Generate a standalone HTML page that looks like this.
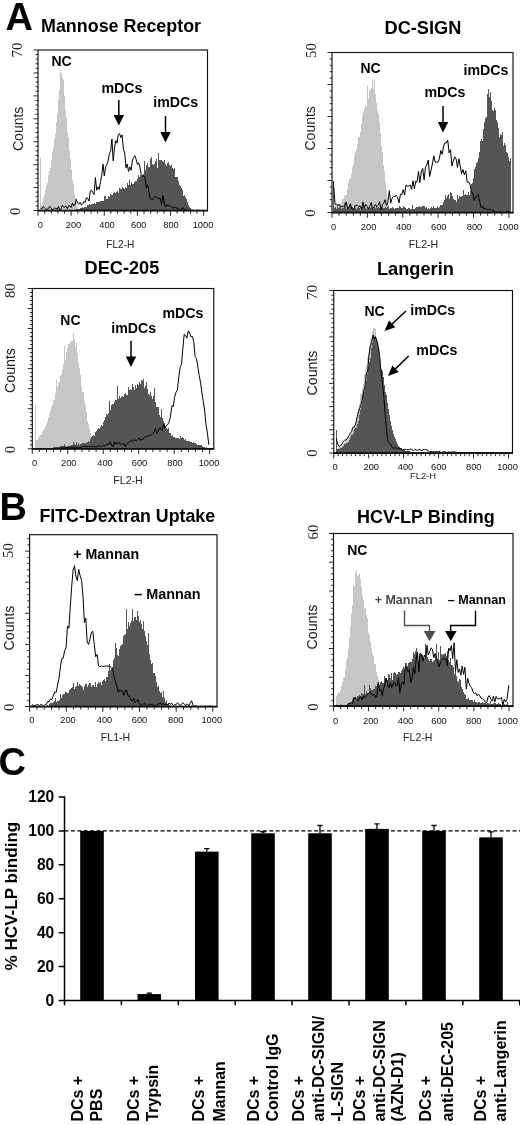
<!DOCTYPE html>
<html><head><meta charset="utf-8"><title>Figure</title>
<style>
html,body{margin:0;padding:0;background:#fff;}
body{width:520px;height:1125px;overflow:hidden;}
svg{display:block;will-change:transform;}
</style></head><body>
<svg width="520" height="1125" viewBox="0 0 520 1125">
<rect width="520" height="1125" fill="#fff"/>
<text x="5.50" y="30.00" font-family='"Liberation Sans", Arial, Helvetica, sans-serif' font-size="38.00" font-weight="bold" text-anchor="start" fill="#000">A</text>
<text x="-0.50" y="520.00" font-family='"Liberation Sans", Arial, Helvetica, sans-serif' font-size="38.00" font-weight="bold" text-anchor="start" fill="#000">B</text>
<text x="-1.50" y="775.00" font-family='"Liberation Sans", Arial, Helvetica, sans-serif' font-size="38.00" font-weight="bold" text-anchor="start" fill="#000">C</text>
<text x="41.00" y="31.50" font-family='"Liberation Sans", Arial, Helvetica, sans-serif' font-size="17.90" font-weight="bold" text-anchor="start" fill="#000">Mannose Receptor</text>
<path d="M40 210.5V158h1V205h1V202h1V198h1V195h1V190h1V185h1V183h1V175h1V171h1V168h1V160h1V152h1V147h1V139h1V134h1V122h1V114h1V100h1V90h1V72h1V73h1V78h1V80h1V96h1V110h1V118h1V132h1V137h1V151h1V159h1V169h1V180h1V184h1V194h1V198h1V204h1V207h1V210h1V210h1V210h1V210h1V210h1V210h1V210h1V210h1V210h1V210h1V210h1V210h1V210h1V210h1V210h1V210h1V210h1V210h1V210h1V210h1V210h1V210h1V210h1V210h1V210h1V210h1V210h1V210h1V210h1V210h1V210h1V210h1V210h1V210h1V210h1V210h1V210h1V210h1V210h1V210h1V210h1V210h1V210h1V210h1V210h1V210h1V210h1V210h1V210h1V210h1V210h1V210h1V210h1V210h1V210h1V210h1V210h1V210h1V210h1V210h1V210h1V210h1V210h1V210h1V210h1V210h1V210h1V210h1V210h1V210h1V210h1V210h1V210h1V210h1V210h1V210h1V210h1V210h1V210h1V210h1V210h1V210h1V210h1V210h1V210h1V210h1V210h1V210h1V210h1V210h1V210h1V210h1V210h1V210h1V210h1V210h1V210h1V210h1V210h1V210h1V210h1V210h1V210h1V210h1V210h1V210h1V210h1V210h1V210h1V210h1V210h1V210h1V210h1V210h1V210h1V210h1V210h1V210h1V210h1V210h1V210h1V210h1V210h1V210h1V210h1V210.5Z" fill="#c6c6c6" shape-rendering="crispEdges"/>
<path d="M40 210.5V210h1V210h1V210h1V210h1V210h1V210h1V210h1V210h1V210h1V210h1V210h1V210h1V210h1V210h1V210h1V210h1V210h1V210h1V210h1V210h1V210h1V210h1V210h1V210h1V210h1V210h1V210h1V210h1V210h1V210h1V210h1V210h1V210h1V210h1V210h1V210h1V209h1V209h1V209h1V209h1V208h1V208h1V207h1V208h1V207h1V207h1V207h1V205h1V205h1V204h1V205h1V204h1V204h1V204h1V203h1V204h1V202h1V202h1V202h1V202h1V201h1V201h1V201h1V201h1V196h1V196h1V199h1V199h1V196h1V197h1V194h1V195h1V195h1V193h1V192h1V193h1V192h1V191h1V193h1V188h1V189h1V189h1V187h1V188h1V189h1V187h1V188h1V183h1V185h1V180h1V185h1V182h1V184h1V184h1V182h1V181h1V181h1V179h1V175h1V177h1V175h1V176h1V175h1V174h1V161h1V170h1V165h1V163h1V167h1V167h1V159h1V157h1V164h1V165h1V164h1V161h1V159h1V168h1V153h1V160h1V160h1V160h1V161h1V162h1V160h1V164h1V166h1V163h1V162h1V165h1V166h1V165h1V168h1V169h1V168h1V177h1V177h1V177h1V181h1V185h1V186h1V188h1V190h1V196h1V195h1V197h1V199h1V202h1V205h1V207h1V208h1V210h1V210h1V210h1V210h1V210h1V210h1V210h1V210h1V210h1V210h1V210h1V210h1V210.5Z" fill="#555555" shape-rendering="crispEdges"/>
<path d="M40.4 207.9L40.6 208.2L41.9 208.8L43.2 206.6L44.5 207.8L45.7 208.9L47.0 209.5L48.3 208.6L49.6 206.3L50.8 207.3L52.1 209.7L53.4 209.0L54.6 208.1L55.9 208.4L57.2 209.1L58.5 206.4L59.7 210.0L61.0 208.8L62.3 205.3L63.6 207.1L64.8 207.1L66.1 206.2L67.4 208.8L68.7 205.6L69.9 205.8L71.2 207.4L72.5 203.0L73.7 205.8L75.0 205.0L76.3 199.2L77.6 203.2L78.8 204.2L80.1 202.2L81.4 205.0L82.7 204.1L83.9 201.4L85.2 202.4L86.5 197.7L87.8 198.4L89.0 201.0L90.3 190.9L91.6 190.2L92.8 192.6L94.1 194.5L95.4 177.6L96.7 190.2L97.9 186.8L99.2 189.5L100.5 181.6L101.8 174.9L103.0 164.1L104.3 175.9L105.6 167.2L106.9 164.4L108.1 160.9L109.4 153.5L110.7 150.8L111.9 139.1L113.2 160.9L114.5 147.7L115.8 140.6L117.0 143.1L118.3 134.6L119.6 133.7L120.9 137.6L122.1 134.9L123.4 149.1L124.7 153.0L126.0 167.7L127.2 164.0L128.5 171.5L129.8 166.9L131.1 170.3L132.3 161.0L133.6 157.5L134.9 155.8L136.1 159.1L137.4 164.5L138.7 162.7L140.0 167.7L141.2 174.5L142.5 176.6L143.8 175.7L145.1 178.0L146.3 188.1L147.6 184.7L148.9 191.7L150.2 197.8L151.4 199.5L152.7 199.8L154.0 197.6L155.2 196.3L156.5 197.2L157.8 198.1L159.1 198.5L160.3 198.3L161.6 204.3L162.9 195.5L164.2 203.0L165.4 206.9L166.7 204.5L168.0 206.3L169.3 205.1L170.5 205.8L171.8 207.1L173.1 208.4L174.3 207.0L175.6 207.6L176.9 208.0L178.2 209.1L179.4 209.0L180.7 209.8L182.0 209.0L183.3 207.7L184.5 209.9L185.8 210.2L187.1 210.0L188.4 210.5L189.6 210.2L190.9 210.2L192.2 210.0L193.4 210.4L194.7 210.5L196.0 210.4L197.3 210.4L198.5 210.1L199.8 210.5L201.1 210.5L202.4 210.3L202.8 210.5" fill="none" stroke="#000" stroke-width="1.00" stroke-linejoin="miter" stroke-miterlimit="2"/>
<path d="M37.50 210.65H208.00" stroke="#111" stroke-width="1.7" fill="none"/>
<rect x="38.00" y="50.00" width="169.50" height="160.50" fill="none" stroke="#111" stroke-width="1.15"/>
<path d="M38.00 210.50v5.30M44.63 210.50v3.20M51.26 210.50v3.20M57.88 210.50v3.20M64.51 210.50v3.20M71.14 210.50v5.30M77.77 210.50v3.20M84.39 210.50v3.20M91.02 210.50v3.20M97.65 210.50v3.20M104.28 210.50v5.30M110.90 210.50v3.20M117.53 210.50v3.20M124.16 210.50v3.20M130.79 210.50v3.20M137.41 210.50v5.30M144.04 210.50v3.20M150.67 210.50v3.20M157.30 210.50v3.20M163.92 210.50v3.20M170.55 210.50v5.30M177.18 210.50v3.20M183.81 210.50v3.20M190.43 210.50v3.20M197.06 210.50v3.20M203.69 210.50v5.30M38.00 210.50h-4.50M38.00 205.91h-2.40M38.00 201.33h-2.40M38.00 196.74h-2.40M38.00 192.16h-2.40M38.00 187.57h-4.50M38.00 182.99h-2.40M38.00 178.40h-2.40M38.00 173.81h-2.40M38.00 169.23h-2.40M38.00 164.64h-4.50M38.00 160.06h-2.40M38.00 155.47h-2.40M38.00 150.89h-2.40M38.00 146.30h-2.40M38.00 141.71h-4.50M38.00 137.13h-2.40M38.00 132.54h-2.40M38.00 127.96h-2.40M38.00 123.37h-2.40M38.00 118.79h-4.50M38.00 114.20h-2.40M38.00 109.61h-2.40M38.00 105.03h-2.40M38.00 100.44h-2.40M38.00 95.86h-4.50M38.00 91.27h-2.40M38.00 86.69h-2.40M38.00 82.10h-2.40M38.00 77.51h-2.40M38.00 72.93h-4.50M38.00 68.34h-2.40M38.00 63.76h-2.40M38.00 59.17h-2.40M38.00 54.59h-2.40M38.00 50.00h-4.50" stroke="#111" stroke-width="0.9" fill="none"/>
<text x="40.40" y="228.25" font-family='"Liberation Sans", Arial, Helvetica, sans-serif' font-size="9.3" fill="#111" text-anchor="middle">0</text>
<text x="73.50" y="228.25" font-family='"Liberation Sans", Arial, Helvetica, sans-serif' font-size="9.3" fill="#111" text-anchor="middle">200</text>
<text x="107.00" y="228.25" font-family='"Liberation Sans", Arial, Helvetica, sans-serif' font-size="9.3" fill="#111" text-anchor="middle">400</text>
<text x="138.80" y="228.25" font-family='"Liberation Sans", Arial, Helvetica, sans-serif' font-size="9.3" fill="#111" text-anchor="middle">600</text>
<text x="171.00" y="228.25" font-family='"Liberation Sans", Arial, Helvetica, sans-serif' font-size="9.3" fill="#111" text-anchor="middle">800</text>
<text x="203.00" y="228.25" font-family='"Liberation Sans", Arial, Helvetica, sans-serif' font-size="9.3" fill="#111" text-anchor="middle">1000</text>
<text x="120.30" y="247.50" font-family='"Liberation Sans", Arial, Helvetica, sans-serif' font-size="10.10" font-weight="normal" text-anchor="middle" fill="#222">FL2-H</text>
<text transform="translate(22.30 57.50) rotate(-90)" font-family='"Liberation Serif", "Times New Roman", serif' font-size="14.80" font-weight="normal" text-anchor="start" fill="#222">70</text>
<text transform="translate(19.80 215.00) rotate(-90)" font-family='"Liberation Serif", "Times New Roman", serif' font-size="14.80" font-weight="normal" text-anchor="start" fill="#222">0</text>
<text transform="translate(22.50 151.00) rotate(-90)" font-family='"Liberation Sans", Arial, Helvetica, sans-serif' font-size="14.00" font-weight="normal" text-anchor="start" fill="#222">Counts</text>
<text x="51.50" y="65.50" font-family='"Liberation Sans", Arial, Helvetica, sans-serif' font-size="14.00" font-weight="bold" text-anchor="start" fill="#000">NC</text>
<text x="101.50" y="92.50" font-family='"Liberation Sans", Arial, Helvetica, sans-serif' font-size="14.20" font-weight="bold" text-anchor="start" fill="#000">mDCs</text>
<path d="M118.80 100.00V116.00" stroke="#000" stroke-width="1.50"/>
<path d="M113.60 115.00L124.00 115.00L118.80 125.50Z" fill="#000"/>
<text x="153.30" y="107.00" font-family='"Liberation Sans", Arial, Helvetica, sans-serif' font-size="14.20" font-weight="bold" text-anchor="start" fill="#000">imDCs</text>
<path d="M165.50 116.00V133.00" stroke="#000" stroke-width="1.50"/>
<path d="M160.30 132.00L170.70 132.00L165.50 142.50Z" fill="#000"/>
<text x="384.50" y="34.00" font-family='"Liberation Sans", Arial, Helvetica, sans-serif' font-size="18.20" font-weight="bold" text-anchor="start" fill="#000">DC-SIGN</text>
<path d="M333 212.5V205h1V206h1V206h1V205h1V206h1V204h1V205h1V204h1V202h1V199h1V199h1V196h1V195h1V195h1V189h1V183h1V178h1V179h1V174h1V167h1V164h1V155h1V152h1V149h1V144h1V137h1V137h1V132h1V124h1V115h1V112h1V109h1V105h1V107h1V85h1V99h1V90h1V90h1V88h1V79h1V89h1V81h1V94h1V103h1V111h1V114h1V122h1V133h1V146h1V152h1V165h1V171h1V182h1V190h1V198h1V208h1V212h1V212h1V212h1V212h1V212h1V212h1V212h1V212h1V212h1V212h1V212h1V212h1V212h1V212h1V212h1V212h1V212h1V212h1V212h1V212h1V212h1V212h1V212h1V212h1V212h1V212h1V212h1V212h1V212h1V212h1V212h1V212h1V212h1V212h1V212h1V212h1V212h1V212h1V212h1V212h1V212h1V212h1V212h1V212h1V212h1V212h1V212h1V212h1V212h1V212h1V212h1V212h1V212h1V212h1V212h1V212h1V212h1V212h1V212h1V212h1V212h1V212h1V212h1V212h1V212h1V212h1V212h1V212h1V212h1V212h1V212h1V212h1V212h1V212h1V212h1V212h1V212h1V212h1V212h1V212h1V212h1V212h1V212h1V212h1V212h1V212h1V212h1V212h1V212h1V212h1V212h1V212h1V212h1V212h1V212h1V212h1V212h1V212h1V212h1V212h1V212h1V212h1V212h1V212h1V212h1V212h1V212h1V212h1V212h1V212h1V212h1V212h1V212h1V212h1V212h1V212h1V212h1V212h1V212h1V212h1V212h1V212h1V212.5Z" fill="#c6c6c6" shape-rendering="crispEdges"/>
<path d="M333 212.5V187h1V208h1V207h1V209h1V207h1V208h1V207h1V208h1V209h1V208h1V208h1V203h1V207h1V209h1V207h1V207h1V207h1V204h1V208h1V207h1V208h1V205h1V208h1V209h1V208h1V207h1V208h1V210h1V207h1V207h1V205h1V207h1V208h1V209h1V207h1V208h1V206h1V208h1V207h1V208h1V209h1V207h1V208h1V207h1V208h1V207h1V208h1V207h1V208h1V207h1V208h1V208h1V207h1V208h1V207h1V206h1V209h1V208h1V208h1V207h1V208h1V209h1V208h1V208h1V208h1V208h1V206h1V207h1V208h1V208h1V206h1V207h1V208h1V209h1V209h1V208h1V208h1V209h1V209h1V205h1V209h1V209h1V208h1V207h1V207h1V207h1V206h1V207h1V207h1V206h1V206h1V206h1V208h1V207h1V209h1V208h1V209h1V208h1V207h1V208h1V206h1V208h1V208h1V208h1V206h1V208h1V207h1V205h1V205h1V205h1V202h1V200h1V195h1V198h1V196h1V194h1V199h1V192h1V193h1V196h1V199h1V200h1V200h1V202h1V195h1V199h1V196h1V197h1V196h1V196h1V190h1V195h1V194h1V195h1V195h1V192h1V195h1V191h1V184h1V183h1V178h1V169h1V167h1V163h1V162h1V158h1V152h1V141h1V139h1V141h1V129h1V122h1V118h1V117h1V94h1V89h1V97h1V92h1V101h1V110h1V111h1V108h1V110h1V120h1V122h1V128h1V137h1V134h1V135h1V132h1V146h1V143h1V145h1V152h1V153h1V157h1V161h1V158h1V212.5Z" fill="#555555" shape-rendering="crispEdges"/>
<path d="M333.4 181.0L333.7 186.0L335.1 204.6L336.5 204.1L337.9 205.9L339.3 204.3L340.6 207.2L342.0 206.4L343.4 206.3L344.8 206.9L346.2 201.9L347.6 208.9L349.0 207.1L350.4 203.6L351.8 208.7L353.2 209.7L354.6 207.8L355.9 205.3L357.3 205.2L358.7 206.7L360.1 205.9L361.5 209.6L362.9 201.9L364.3 207.7L365.7 204.4L367.1 206.4L368.5 208.5L369.9 206.4L371.2 202.6L372.6 208.9L374.0 206.8L375.4 204.4L376.8 206.8L378.2 205.1L379.6 201.7L381.0 209.8L382.4 204.7L383.8 202.8L385.1 199.7L386.5 205.7L387.9 202.4L389.3 190.7L390.7 203.2L392.1 198.3L393.5 196.3L394.9 196.4L396.3 195.5L397.7 197.7L399.1 202.9L400.4 194.2L401.8 194.7L403.2 189.6L404.6 194.9L406.0 185.0L407.4 186.3L408.8 186.1L410.2 185.0L411.6 189.3L413.0 180.8L414.4 188.8L415.7 181.3L417.1 182.2L418.5 171.4L419.9 182.5L421.3 171.9L422.7 168.5L424.1 179.8L425.5 167.1L426.9 164.9L428.3 160.1L429.6 176.6L431.0 170.6L432.4 163.8L433.8 155.9L435.2 162.2L436.6 162.2L438.0 162.3L439.4 158.5L440.8 150.5L442.2 154.3L443.6 146.0L444.9 142.8L446.3 143.0L447.7 140.0L449.1 152.8L450.5 149.7L451.9 165.9L453.3 161.0L454.7 156.8L456.1 158.9L457.5 167.5L458.9 158.8L460.2 165.8L461.6 173.6L463.0 169.6L464.4 174.8L465.8 170.8L467.2 182.4L468.6 181.9L470.0 184.5L471.4 191.7L472.8 193.2L474.1 200.6L475.5 197.2L476.9 196.5L478.3 194.3L479.7 201.9L481.1 207.5L482.5 206.0L483.9 208.9L485.3 208.5L486.7 209.2L488.1 210.0L489.4 209.3L490.8 209.1L492.2 210.5L493.6 210.7L495.0 211.7L496.4 212.3L497.8 212.5L499.2 212.2L500.6 211.6L502.0 212.4L503.4 212.5L504.7 212.3L506.1 212.4L507.5 210.7L508.9 212.4L510.3 212.5L510.8 212.5" fill="none" stroke="#000" stroke-width="1.00" stroke-linejoin="miter" stroke-miterlimit="2"/>
<path d="M331.50 212.65H513.50" stroke="#111" stroke-width="1.7" fill="none"/>
<rect x="332.00" y="52.50" width="181.00" height="160.00" fill="none" stroke="#111" stroke-width="1.15"/>
<path d="M332.00 212.50v5.30M339.08 212.50v3.20M346.15 212.50v3.20M353.23 212.50v3.20M360.31 212.50v3.20M367.39 212.50v5.30M374.46 212.50v3.20M381.54 212.50v3.20M388.62 212.50v3.20M395.70 212.50v3.20M402.77 212.50v5.30M409.85 212.50v3.20M416.93 212.50v3.20M424.00 212.50v3.20M431.08 212.50v3.20M438.16 212.50v5.30M445.24 212.50v3.20M452.31 212.50v3.20M459.39 212.50v3.20M466.47 212.50v3.20M473.54 212.50v5.30M480.62 212.50v3.20M487.70 212.50v3.20M494.78 212.50v3.20M501.85 212.50v3.20M508.93 212.50v5.30M332.00 212.50h-4.50M332.00 206.10h-2.40M332.00 199.70h-2.40M332.00 193.30h-2.40M332.00 186.90h-2.40M332.00 180.50h-4.50M332.00 174.10h-2.40M332.00 167.70h-2.40M332.00 161.30h-2.40M332.00 154.90h-2.40M332.00 148.50h-4.50M332.00 142.10h-2.40M332.00 135.70h-2.40M332.00 129.30h-2.40M332.00 122.90h-2.40M332.00 116.50h-4.50M332.00 110.10h-2.40M332.00 103.70h-2.40M332.00 97.30h-2.40M332.00 90.90h-2.40M332.00 84.50h-4.50M332.00 78.10h-2.40M332.00 71.70h-2.40M332.00 65.30h-2.40M332.00 58.90h-2.40M332.00 52.50h-4.50" stroke="#111" stroke-width="0.9" fill="none"/>
<text x="333.70" y="229.95" font-family='"Liberation Sans", Arial, Helvetica, sans-serif' font-size="9.3" fill="#111" text-anchor="middle">0</text>
<text x="368.60" y="229.95" font-family='"Liberation Sans", Arial, Helvetica, sans-serif' font-size="9.3" fill="#111" text-anchor="middle">200</text>
<text x="403.80" y="229.95" font-family='"Liberation Sans", Arial, Helvetica, sans-serif' font-size="9.3" fill="#111" text-anchor="middle">400</text>
<text x="438.75" y="229.95" font-family='"Liberation Sans", Arial, Helvetica, sans-serif' font-size="9.3" fill="#111" text-anchor="middle">600</text>
<text x="474.50" y="229.95" font-family='"Liberation Sans", Arial, Helvetica, sans-serif' font-size="9.3" fill="#111" text-anchor="middle">800</text>
<text x="508.30" y="229.95" font-family='"Liberation Sans", Arial, Helvetica, sans-serif' font-size="9.3" fill="#111" text-anchor="middle">1000</text>
<text x="423.50" y="248.40" font-family='"Liberation Sans", Arial, Helvetica, sans-serif' font-size="10.60" font-weight="normal" text-anchor="middle" fill="#222">FL2-H</text>
<text transform="translate(316.00 58.00) rotate(-90)" font-family='"Liberation Serif", "Times New Roman", serif' font-size="14.80" font-weight="normal" text-anchor="start" fill="#222">50</text>
<text transform="translate(315.00 216.80) rotate(-90)" font-family='"Liberation Serif", "Times New Roman", serif' font-size="14.80" font-weight="normal" text-anchor="start" fill="#222">0</text>
<text transform="translate(314.50 150.50) rotate(-90)" font-family='"Liberation Sans", Arial, Helvetica, sans-serif' font-size="14.00" font-weight="normal" text-anchor="start" fill="#222">Counts</text>
<text x="360.50" y="72.50" font-family='"Liberation Sans", Arial, Helvetica, sans-serif' font-size="14.00" font-weight="bold" text-anchor="start" fill="#000">NC</text>
<text x="463.50" y="75.00" font-family='"Liberation Sans", Arial, Helvetica, sans-serif' font-size="14.20" font-weight="bold" text-anchor="start" fill="#000">imDCs</text>
<text x="424.50" y="97.00" font-family='"Liberation Sans", Arial, Helvetica, sans-serif' font-size="14.20" font-weight="bold" text-anchor="start" fill="#000">mDCs</text>
<path d="M443.00 106.00V123.00" stroke="#000" stroke-width="1.50"/>
<path d="M437.80 122.00L448.20 122.00L443.00 132.50Z" fill="#000"/>
<text x="84.50" y="274.00" font-family='"Liberation Sans", Arial, Helvetica, sans-serif' font-size="18.20" font-weight="bold" text-anchor="start" fill="#000">DEC-205</text>
<path d="M35 448.8V405h1V440h1V440h1V438h1V436h1V435h1V435h1V432h1V430h1V429h1V427h1V424h1V421h1V417h1V413h1V411h1V407h1V404h1V400h1V400h1V393h1V380h1V387h1V382h1V382h1V376h1V374h1V369h1V364h1V346h1V360h1V352h1V348h1V344h1V344h1V342h1V341h1V341h1V333h1V339h1V347h1V343h1V353h1V363h1V368h1V375h1V386h1V392h1V392h1V401h1V405h1V412h1V421h1V424h1V429h1V433h1V438h1V441h1V443h1V446h1V447h1V449h1V449h1V449h1V449h1V449h1V449h1V449h1V449h1V449h1V449h1V449h1V449h1V449h1V449h1V449h1V449h1V449h1V449h1V449h1V449h1V449h1V449h1V449h1V449h1V449h1V449h1V449h1V449h1V449h1V449h1V449h1V449h1V449h1V449h1V449h1V449h1V449h1V449h1V449h1V449h1V449h1V449h1V449h1V449h1V449h1V449h1V449h1V449h1V449h1V449h1V449h1V449h1V449h1V449h1V449h1V449h1V449h1V449h1V449h1V449h1V449h1V449h1V449h1V449h1V449h1V449h1V449h1V449h1V449h1V449h1V449h1V449h1V449h1V449h1V449h1V449h1V449h1V449h1V449h1V449h1V449h1V449h1V449h1V449h1V449h1V449h1V449h1V449h1V449h1V449h1V449h1V449h1V449h1V449h1V449h1V449h1V449h1V449h1V449h1V449h1V449h1V449h1V449h1V449h1V449h1V449h1V449h1V449h1V449h1V449h1V449h1V449h1V449h1V448.8Z" fill="#c6c6c6" shape-rendering="crispEdges"/>
<path d="M35 448.8V449h1V449h1V449h1V449h1V449h1V449h1V449h1V449h1V449h1V449h1V449h1V448h1V449h1V448h1V448h1V448h1V448h1V448h1V447h1V447h1V447h1V447h1V447h1V447h1V447h1V446h1V446h1V446h1V446h1V444h1V446h1V447h1V446h1V446h1V446h1V446h1V445h1V445h1V442h1V444h1V445h1V442h1V445h1V443h1V445h1V444h1V444h1V443h1V443h1V443h1V443h1V443h1V442h1V441h1V442h1V439h1V437h1V436h1V435h1V436h1V432h1V431h1V429h1V428h1V429h1V427h1V425h1V426h1V422h1V420h1V417h1V414h1V415h1V413h1V401h1V410h1V405h1V404h1V404h1V402h1V400h1V400h1V386h1V399h1V396h1V398h1V397h1V396h1V397h1V394h1V393h1V395h1V395h1V387h1V390h1V389h1V390h1V384h1V387h1V390h1V385h1V388h1V384h1V385h1V382h1V384h1V380h1V381h1V379h1V388h1V386h1V382h1V389h1V394h1V395h1V392h1V396h1V399h1V396h1V388h1V402h1V407h1V407h1V407h1V415h1V417h1V409h1V418h1V421h1V423h1V426h1V428h1V429h1V428h1V433h1V433h1V436h1V435h1V437h1V437h1V438h1V438h1V438h1V438h1V439h1V436h1V438h1V437h1V438h1V440h1V439h1V441h1V441h1V441h1V441h1V442h1V442h1V443h1V442h1V443h1V443h1V444h1V445h1V445h1V445h1V445h1V445h1V446h1V447h1V447h1V448h1V447h1V448h1V448h1V448.8Z" fill="#555555" shape-rendering="crispEdges"/>
<path d="M34.9 448.8L35.2 448.4L36.6 448.8L37.9 448.7L39.3 448.7L40.7 448.5L42.0 448.7L43.4 448.7L44.8 448.6L46.1 448.6L47.5 448.6L48.9 448.7L50.2 448.7L51.6 448.8L53.0 448.7L54.3 448.6L55.7 448.6L57.1 448.3L58.4 448.1L59.8 448.0L61.2 447.9L62.5 447.8L63.9 447.9L65.3 447.5L66.6 447.5L68.0 447.6L69.4 446.8L70.7 447.2L72.1 447.6L73.5 447.1L74.8 447.1L76.2 447.2L77.6 447.5L78.9 448.0L80.3 447.6L81.7 446.9L83.0 446.5L84.4 446.4L85.8 446.6L87.1 446.6L88.5 446.4L89.9 446.4L91.2 446.4L92.6 447.0L94.0 446.1L95.3 446.8L96.7 446.7L98.1 445.9L99.4 446.1L100.8 446.2L102.2 446.4L103.5 445.1L104.9 446.1L106.3 444.6L107.6 444.1L109.0 444.6L110.4 441.4L111.7 445.2L113.1 446.6L114.5 441.8L115.8 444.0L117.2 443.1L118.6 442.2L119.9 444.0L121.3 444.4L122.7 443.8L124.1 443.5L125.4 446.6L126.8 444.2L128.2 442.4L129.5 442.1L130.9 440.5L132.3 441.8L133.6 440.3L135.0 440.0L136.4 440.9L137.7 439.7L139.1 438.0L140.5 440.3L141.8 439.1L143.2 439.3L144.6 437.0L145.9 436.3L147.3 436.3L148.7 435.9L150.0 435.2L151.4 434.7L152.8 433.4L154.1 432.3L155.5 428.7L156.9 433.7L158.2 431.0L159.6 427.5L161.0 428.8L162.3 430.5L163.7 424.0L165.1 427.8L166.4 425.4L167.8 424.5L169.2 421.9L170.5 416.5L171.9 405.7L173.3 406.5L174.6 397.3L176.0 392.3L177.4 390.2L178.7 377.7L180.1 367.5L181.5 364.4L182.8 349.2L184.2 334.3L185.6 335.5L186.9 338.1L188.3 330.9L189.7 333.0L191.0 336.9L192.4 336.5L193.8 342.1L195.1 356.5L196.5 358.5L197.9 367.0L199.2 375.4L200.6 382.8L202.0 393.6L203.3 401.5L204.7 411.0L206.1 425.3L207.4 432.9L208.8 444.5L209.3 444.3" fill="none" stroke="#000" stroke-width="1.00" stroke-linejoin="miter" stroke-miterlimit="2"/>
<path d="M31.80 448.90H214.25" stroke="#111" stroke-width="1.7" fill="none"/>
<rect x="32.30" y="288.50" width="181.45" height="160.25" fill="none" stroke="#111" stroke-width="1.15"/>
<path d="M32.30 448.75v5.30M39.39 448.75v3.20M46.49 448.75v3.20M53.58 448.75v3.20M60.68 448.75v3.20M67.77 448.75v5.30M74.87 448.75v3.20M81.96 448.75v3.20M89.06 448.75v3.20M96.15 448.75v3.20M103.25 448.75v5.30M110.34 448.75v3.20M117.44 448.75v3.20M124.53 448.75v3.20M131.63 448.75v3.20M138.72 448.75v5.30M145.82 448.75v3.20M152.91 448.75v3.20M160.01 448.75v3.20M167.10 448.75v3.20M174.20 448.75v5.30M181.29 448.75v3.20M188.39 448.75v3.20M195.48 448.75v3.20M202.58 448.75v3.20M209.67 448.75v5.30M32.30 448.75h-4.50M32.30 444.74h-2.40M32.30 440.74h-2.40M32.30 436.73h-2.40M32.30 432.73h-2.40M32.30 428.72h-4.50M32.30 424.71h-2.40M32.30 420.71h-2.40M32.30 416.70h-2.40M32.30 412.69h-2.40M32.30 408.69h-4.50M32.30 404.68h-2.40M32.30 400.68h-2.40M32.30 396.67h-2.40M32.30 392.66h-2.40M32.30 388.66h-4.50M32.30 384.65h-2.40M32.30 380.64h-2.40M32.30 376.64h-2.40M32.30 372.63h-2.40M32.30 368.62h-4.50M32.30 364.62h-2.40M32.30 360.61h-2.40M32.30 356.61h-2.40M32.30 352.60h-2.40M32.30 348.59h-4.50M32.30 344.59h-2.40M32.30 340.58h-2.40M32.30 336.58h-2.40M32.30 332.57h-2.40M32.30 328.56h-4.50M32.30 324.56h-2.40M32.30 320.55h-2.40M32.30 316.54h-2.40M32.30 312.54h-2.40M32.30 308.53h-4.50M32.30 304.52h-2.40M32.30 300.52h-2.40M32.30 296.51h-2.40M32.30 292.51h-2.40M32.30 288.50h-4.50" stroke="#111" stroke-width="0.9" fill="none"/>
<text x="34.50" y="465.95" font-family='"Liberation Sans", Arial, Helvetica, sans-serif' font-size="9.3" fill="#111" text-anchor="middle">0</text>
<text x="68.75" y="465.95" font-family='"Liberation Sans", Arial, Helvetica, sans-serif' font-size="9.3" fill="#111" text-anchor="middle">200</text>
<text x="105.00" y="465.95" font-family='"Liberation Sans", Arial, Helvetica, sans-serif' font-size="9.3" fill="#111" text-anchor="middle">400</text>
<text x="139.50" y="465.95" font-family='"Liberation Sans", Arial, Helvetica, sans-serif' font-size="9.3" fill="#111" text-anchor="middle">600</text>
<text x="175.00" y="465.95" font-family='"Liberation Sans", Arial, Helvetica, sans-serif' font-size="9.3" fill="#111" text-anchor="middle">800</text>
<text x="209.00" y="465.95" font-family='"Liberation Sans", Arial, Helvetica, sans-serif' font-size="9.3" fill="#111" text-anchor="middle">1000</text>
<text x="128.00" y="483.70" font-family='"Liberation Sans", Arial, Helvetica, sans-serif' font-size="10.60" font-weight="normal" text-anchor="middle" fill="#222">FL2-H</text>
<text transform="translate(14.90 298.10) rotate(-90)" font-family='"Liberation Serif", "Times New Roman", serif' font-size="14.80" font-weight="normal" text-anchor="start" fill="#222">80</text>
<text transform="translate(14.90 453.30) rotate(-90)" font-family='"Liberation Serif", "Times New Roman", serif' font-size="14.80" font-weight="normal" text-anchor="start" fill="#222">0</text>
<text transform="translate(15.00 393.00) rotate(-90)" font-family='"Liberation Sans", Arial, Helvetica, sans-serif' font-size="14.20" font-weight="normal" text-anchor="start" fill="#222">Counts</text>
<text x="60.30" y="325.00" font-family='"Liberation Sans", Arial, Helvetica, sans-serif' font-size="14.00" font-weight="bold" text-anchor="start" fill="#000">NC</text>
<text x="162.50" y="317.50" font-family='"Liberation Sans", Arial, Helvetica, sans-serif' font-size="14.20" font-weight="bold" text-anchor="start" fill="#000">mDCs</text>
<text x="111.30" y="333.00" font-family='"Liberation Sans", Arial, Helvetica, sans-serif' font-size="14.20" font-weight="bold" text-anchor="start" fill="#000">imDCs</text>
<path d="M131.00 340.70V357.50" stroke="#000" stroke-width="1.50"/>
<path d="M125.80 356.50L136.20 356.50L131.00 367.00Z" fill="#000"/>
<text x="377.00" y="275.00" font-family='"Liberation Sans", Arial, Helvetica, sans-serif' font-size="18.20" font-weight="bold" text-anchor="start" fill="#000">Langerin</text>
<path d="M336 453.0V449h1V448h1V447h1V445h1V447h1V444h1V444h1V444h1V442h1V441h1V439h1V439h1V438h1V436h1V433h1V433h1V430h1V429h1V426h1V423h1V418h1V412h1V408h1V404h1V394h1V394h1V389h1V384h1V374h1V370h1V365h1V357h1V353h1V346h1V339h1V337h1V331h1V328h1V328h1V329h1V337h1V345h1V358h1V364h1V370h1V376h1V382h1V389h1V396h1V403h1V409h1V415h1V425h1V428h1V433h1V435h1V444h1V447h1V449h1V451h1V453h1V453h1V453h1V453h1V453h1V453h1V453h1V453h1V453h1V453h1V453h1V453h1V453h1V453h1V453h1V453h1V453h1V453h1V453h1V453h1V453h1V453h1V453h1V453h1V453h1V453h1V453h1V453h1V453h1V453h1V453h1V453h1V453h1V453h1V453h1V453h1V453h1V453h1V453h1V453h1V453h1V453h1V453h1V453h1V453h1V453h1V453h1V453h1V453h1V453h1V453h1V453h1V453h1V453h1V453h1V453h1V453h1V453h1V453h1V453h1V453h1V453h1V453h1V453h1V453h1V453h1V453h1V453h1V453h1V453h1V453h1V453h1V453h1V453h1V453h1V453h1V453h1V453h1V453h1V453h1V453h1V453h1V453h1V453h1V453h1V453h1V453h1V453h1V453h1V453h1V453h1V453h1V453h1V453h1V453h1V453h1V453h1V453h1V453h1V453h1V453h1V453h1V453h1V453h1V453h1V453h1V453h1V453h1V453h1V453h1V453h1V453h1V453.0Z" fill="#c6c6c6" shape-rendering="crispEdges"/>
<path d="M336 453.0V430h1V449h1V449h1V449h1V448h1V448h1V447h1V446h1V444h1V444h1V443h1V443h1V442h1V440h1V437h1V435h1V435h1V433h1V429h1V428h1V428h1V424h1V421h1V415h1V410h1V406h1V401h1V394h1V391h1V386h1V381h1V374h1V367h1V362h1V358h1V348h1V343h1V335h1V337h1V336h1V340h1V343h1V349h1V358h1V366h1V369h1V371h1V377h1V385h1V392h1V395h1V403h1V409h1V415h1V421h1V426h1V430h1V434h1V437h1V439h1V442h1V444h1V446h1V447h1V448h1V449h1V450h1V450h1V450h1V451h1V451h1V451h1V451h1V451h1V452h1V452h1V452h1V452h1V452h1V453h1V453h1V453h1V453h1V453h1V453h1V453h1V453h1V453h1V453h1V453h1V453h1V453h1V453h1V453h1V453h1V453h1V453h1V453h1V453h1V453h1V453h1V453h1V453h1V453h1V453h1V453h1V453h1V453h1V453h1V453h1V453h1V453h1V453h1V453h1V453h1V453h1V453h1V453h1V453h1V453h1V453h1V453h1V453h1V453h1V453h1V453h1V453h1V453h1V453h1V453h1V453h1V453h1V453h1V453h1V453h1V453h1V453h1V453h1V453h1V453h1V453h1V453h1V453h1V453h1V453h1V453h1V453h1V453h1V453h1V453h1V453h1V453h1V453h1V453h1V453h1V453h1V453h1V453h1V453h1V453h1V453h1V453h1V453h1V453h1V453h1V453h1V453h1V453h1V453h1V453h1V453h1V453h1V453.0Z" fill="#555555" shape-rendering="crispEdges"/>
<path d="M336.4 438.7L336.7 440.2L338.0 444.8L339.4 446.7L340.7 445.3L342.1 443.9L343.4 441.2L344.8 440.1L346.1 440.0L347.5 438.1L348.8 435.9L350.2 433.4L351.5 431.7L352.8 427.4L354.2 427.3L355.5 424.5L356.9 418.1L358.2 413.2L359.6 408.4L360.9 405.1L362.3 399.0L363.6 391.2L365.0 387.0L366.3 374.2L367.7 371.0L369.0 354.7L370.4 345.4L371.7 342.2L373.1 334.9L374.4 338.5L375.8 337.7L377.1 341.1L378.5 347.6L379.8 357.7L381.1 372.6L382.5 383.9L383.8 395.6L385.2 415.6L386.5 429.5L387.9 441.3L389.2 442.6L390.6 444.1L391.9 446.9L393.3 448.5L394.6 447.8L396.0 448.0L397.3 448.5L398.7 448.0L400.0 449.0L401.4 448.3L402.7 450.3L404.1 449.0L405.4 449.7L406.8 449.8L408.1 449.6L409.4 449.9L410.8 448.9L412.1 449.8L413.5 450.7L414.8 449.4L416.2 449.7L417.5 450.6L418.9 449.8L420.2 449.3L421.6 451.2L422.9 449.5L424.3 449.5L425.6 449.7L427.0 449.9L428.3 450.8L429.7 451.7L431.0 451.7L432.4 451.3L433.7 451.6L435.1 452.0L436.4 451.5L437.7 451.9L439.1 451.3L440.4 451.9L441.8 452.7L443.1 451.6L444.5 451.8L445.8 452.1L447.2 452.4L448.5 451.8L449.9 452.3L451.2 452.1L452.6 452.0L453.9 451.7L455.3 452.1L456.6 452.3L458.0 452.7L459.3 452.4L460.7 453.0L462.0 452.9L463.4 452.7L464.7 452.9L466.0 453.0L467.4 453.0L468.7 452.9L470.1 452.8L471.4 452.9L472.8 453.0L474.1 452.9L475.5 453.0L476.8 452.9L478.2 453.0L479.5 453.0L480.9 453.0L482.2 453.0L483.6 452.9L484.9 453.0L486.3 453.0L487.6 452.9L489.0 453.0L490.3 452.9L491.7 452.8L493.0 452.9L494.3 452.9L495.7 452.8L497.0 452.9L498.4 453.0L499.7 453.0L501.1 453.0L502.4 453.0L503.8 453.0L505.1 452.9L506.5 453.0L507.8 452.9L508.3 453.0" fill="none" stroke="#000" stroke-width="1.00" stroke-linejoin="miter" stroke-miterlimit="2"/>
<path d="M333.25 453.15H513.00" stroke="#111" stroke-width="1.7" fill="none"/>
<rect x="333.75" y="290.50" width="178.75" height="162.50" fill="none" stroke="#111" stroke-width="1.15"/>
<path d="M333.75 453.00v5.30M338.12 453.00v3.20M342.49 453.00v3.20M346.85 453.00v3.20M351.22 453.00v3.20M355.59 453.00v3.20M359.96 453.00v3.20M364.33 453.00v3.20M368.70 453.00v5.30M373.06 453.00v3.20M377.43 453.00v3.20M381.80 453.00v3.20M386.17 453.00v3.20M390.54 453.00v3.20M394.91 453.00v3.20M399.27 453.00v3.20M403.64 453.00v5.30M408.01 453.00v3.20M412.38 453.00v3.20M416.75 453.00v3.20M421.12 453.00v3.20M425.48 453.00v3.20M429.85 453.00v3.20M434.22 453.00v3.20M438.59 453.00v5.30M442.96 453.00v3.20M447.33 453.00v3.20M451.69 453.00v3.20M456.06 453.00v3.20M460.43 453.00v3.20M464.80 453.00v3.20M469.17 453.00v3.20M473.53 453.00v5.30M477.90 453.00v3.20M482.27 453.00v3.20M486.64 453.00v3.20M491.01 453.00v3.20M495.38 453.00v3.20M499.74 453.00v3.20M504.11 453.00v3.20M508.48 453.00v5.30M333.75 453.00h-4.50M333.75 448.36h-2.40M333.75 443.71h-2.40M333.75 439.07h-2.40M333.75 434.43h-2.40M333.75 429.79h-4.50M333.75 425.14h-2.40M333.75 420.50h-2.40M333.75 415.86h-2.40M333.75 411.21h-2.40M333.75 406.57h-4.50M333.75 401.93h-2.40M333.75 397.29h-2.40M333.75 392.64h-2.40M333.75 388.00h-2.40M333.75 383.36h-4.50M333.75 378.71h-2.40M333.75 374.07h-2.40M333.75 369.43h-2.40M333.75 364.79h-2.40M333.75 360.14h-4.50M333.75 355.50h-2.40M333.75 350.86h-2.40M333.75 346.21h-2.40M333.75 341.57h-2.40M333.75 336.93h-4.50M333.75 332.29h-2.40M333.75 327.64h-2.40M333.75 323.00h-2.40M333.75 318.36h-2.40M333.75 313.71h-4.50M333.75 309.07h-2.40M333.75 304.43h-2.40M333.75 299.79h-2.40M333.75 295.14h-2.40M333.75 290.50h-4.50" stroke="#111" stroke-width="0.9" fill="none"/>
<text x="335.00" y="469.95" font-family='"Liberation Sans", Arial, Helvetica, sans-serif' font-size="9.3" fill="#111" text-anchor="middle">0</text>
<text x="371.25" y="469.95" font-family='"Liberation Sans", Arial, Helvetica, sans-serif' font-size="9.3" fill="#111" text-anchor="middle">200</text>
<text x="405.50" y="469.95" font-family='"Liberation Sans", Arial, Helvetica, sans-serif' font-size="9.3" fill="#111" text-anchor="middle">400</text>
<text x="438.75" y="469.95" font-family='"Liberation Sans", Arial, Helvetica, sans-serif' font-size="9.3" fill="#111" text-anchor="middle">600</text>
<text x="473.75" y="469.95" font-family='"Liberation Sans", Arial, Helvetica, sans-serif' font-size="9.3" fill="#111" text-anchor="middle">800</text>
<text x="507.50" y="469.95" font-family='"Liberation Sans", Arial, Helvetica, sans-serif' font-size="9.3" fill="#111" text-anchor="middle">1000</text>
<text x="423.00" y="479.40" font-family='"Liberation Sans", Arial, Helvetica, sans-serif' font-size="9.40" font-weight="normal" text-anchor="middle" fill="#222">FL2-H</text>
<text transform="translate(317.10 299.70) rotate(-90)" font-family='"Liberation Serif", "Times New Roman", serif' font-size="14.80" font-weight="normal" text-anchor="start" fill="#222">70</text>
<text transform="translate(316.60 456.70) rotate(-90)" font-family='"Liberation Serif", "Times New Roman", serif' font-size="14.80" font-weight="normal" text-anchor="start" fill="#222">0</text>
<text transform="translate(317.00 395.50) rotate(-90)" font-family='"Liberation Sans", Arial, Helvetica, sans-serif' font-size="14.20" font-weight="normal" text-anchor="start" fill="#222">Counts</text>
<text x="364.50" y="316.00" font-family='"Liberation Sans", Arial, Helvetica, sans-serif' font-size="14.00" font-weight="bold" text-anchor="start" fill="#000">NC</text>
<text x="410.30" y="315.00" font-family='"Liberation Sans", Arial, Helvetica, sans-serif' font-size="14.20" font-weight="bold" text-anchor="start" fill="#000">imDCs</text>
<text x="416.30" y="354.50" font-family='"Liberation Sans", Arial, Helvetica, sans-serif' font-size="14.20" font-weight="bold" text-anchor="start" fill="#000">mDCs</text>
<path d="M406.00 311.00L391.46 324.53" stroke="#000" stroke-width="1.50"/>
<path d="M389.05 320.48L395.32 327.22L384.50 331.00Z" fill="#000"/>
<path d="M408.70 356.00L394.83 369.40" stroke="#000" stroke-width="1.50"/>
<path d="M392.35 365.40L398.75 372.01L388.00 376.00Z" fill="#000"/>
<text x="39.50" y="522.00" font-family='"Liberation Sans", Arial, Helvetica, sans-serif' font-size="17.75" font-weight="bold" text-anchor="start" fill="#000">FITC-Dextran Uptake</text>
<path d="M32 706.5V706h1V706h1V706h1V706h1V706h1V706h1V706h1V706h1V706h1V706h1V706h1V706h1V706h1V706h1V706h1V705h1V706h1V704h1V703h1V703h1V703h1V702h1V701h1V698h1V702h1V701h1V701h1V700h1V694h1V698h1V695h1V694h1V694h1V692h1V692h1V693h1V693h1V690h1V689h1V688h1V687h1V683h1V689h1V687h1V686h1V682h1V686h1V684h1V685h1V686h1V687h1V690h1V686h1V684h1V684h1V687h1V685h1V683h1V683h1V687h1V685h1V685h1V687h1V682h1V687h1V684h1V682h1V683h1V682h1V685h1V681h1V680h1V679h1V681h1V677h1V677h1V671h1V664h1V670h1V669h1V667h1V660h1V658h1V643h1V648h1V655h1V656h1V649h1V646h1V645h1V644h1V636h1V635h1V634h1V609h1V629h1V622h1V626h1V623h1V621h1V609h1V621h1V617h1V617h1V620h1V611h1V616h1V622h1V620h1V624h1V629h1V621h1V631h1V636h1V641h1V645h1V633h1V654h1V660h1V664h1V663h1V673h1V673h1V676h1V682h1V687h1V686h1V691h1V693h1V692h1V697h1V691h1V698h1V702h1V700h1V704h1V704h1V705h1V706h1V706h1V706h1V706h1V706h1V706h1V706h1V706h1V706h1V706h1V706h1V706h1V706h1V706h1V706h1V706h1V706h1V706h1V706h1V706h1V706h1V706h1V706h1V706h1V706h1V706h1V706h1V706h1V706h1V706h1V706h1V706h1V706h1V706h1V706h1V706h1V706h1V706h1V706h1V706h1V706h1V706h1V706.5Z" fill="#555555" shape-rendering="crispEdges"/>
<path d="M31.9 706.5L32.2 704.8L33.6 705.3L35.0 705.6L36.4 704.6L37.8 704.5L39.3 705.9L40.7 704.7L42.1 704.6L43.5 706.2L44.9 704.9L46.3 704.4L47.7 701.6L49.1 701.8L50.5 699.0L51.9 699.6L53.4 695.0L54.8 691.9L56.2 692.5L57.6 684.9L59.0 678.2L60.4 667.0L61.8 658.5L63.2 658.2L64.6 650.9L66.0 648.0L67.5 626.0L68.9 628.2L70.3 606.4L71.7 586.6L73.1 570.0L74.5 565.7L75.9 576.1L77.3 580.6L78.7 569.4L80.2 576.0L81.6 580.4L83.0 596.8L84.4 622.5L85.8 618.2L87.2 642.1L88.6 644.4L90.0 638.7L91.4 632.3L92.8 631.3L94.3 644.7L95.7 656.7L97.1 654.4L98.5 665.5L99.9 667.0L101.3 665.8L102.7 666.4L104.1 666.5L105.5 665.9L106.9 666.1L108.4 666.2L109.8 666.1L111.2 667.9L112.6 669.3L114.0 676.5L115.4 681.3L116.8 686.1L118.2 692.3L119.6 689.8L121.0 690.9L122.5 691.3L123.9 695.3L125.3 690.5L126.7 689.9L128.1 696.6L129.5 695.8L130.9 700.1L132.3 701.3L133.7 698.3L135.1 702.8L136.6 701.2L138.0 699.4L139.4 703.9L140.8 705.6L142.2 704.4L143.6 703.7L145.0 703.9L146.4 704.9L147.8 706.4L149.2 704.1L150.7 705.1L152.1 704.1L153.5 706.1L154.9 705.0L156.3 706.5L157.7 704.2L159.1 703.8L160.5 702.9L161.9 704.9L163.3 703.3L164.8 704.9L166.2 704.5L167.6 704.4L169.0 703.2L170.4 704.3L171.8 703.1L173.2 705.7L174.6 704.7L176.0 704.8L177.5 702.8L178.9 704.1L180.3 705.9L181.7 703.8L183.1 702.7L184.5 704.5L185.9 705.5L187.3 703.8L188.7 705.7L190.1 703.4L191.6 700.7L193.0 705.3L194.4 706.2L195.8 705.6L197.2 706.4L198.6 706.5L200.0 706.5L201.4 706.2L202.8 706.5L204.2 706.3L205.7 706.0L207.1 706.5L208.5 706.2L209.9 705.9L211.3 706.5L211.8 706.5" fill="none" stroke="#000" stroke-width="1.00" stroke-linejoin="miter" stroke-miterlimit="2"/>
<path d="M29.10 706.65H217.50" stroke="#111" stroke-width="1.7" fill="none"/>
<rect x="29.60" y="534.70" width="187.40" height="171.80" fill="none" stroke="#111" stroke-width="1.15"/>
<path d="M29.60 706.50v5.30M36.93 706.50v3.20M44.25 706.50v3.20M51.58 706.50v3.20M58.91 706.50v3.20M66.24 706.50v5.30M73.56 706.50v3.20M80.89 706.50v3.20M88.22 706.50v3.20M95.55 706.50v3.20M102.87 706.50v5.30M110.20 706.50v3.20M117.53 706.50v3.20M124.86 706.50v3.20M132.18 706.50v3.20M139.51 706.50v5.30M146.84 706.50v3.20M154.17 706.50v3.20M161.49 706.50v3.20M168.82 706.50v3.20M176.15 706.50v5.30M183.48 706.50v3.20M190.80 706.50v3.20M198.13 706.50v3.20M205.46 706.50v3.20M212.79 706.50v5.30M29.60 706.50h-4.50M29.60 700.29h-2.40M29.60 694.07h-2.40M29.60 687.86h-2.40M29.60 681.65h-2.40M29.60 675.43h-4.50M29.60 669.22h-2.40M29.60 663.01h-2.40M29.60 656.79h-2.40M29.60 650.58h-2.40M29.60 644.37h-4.50M29.60 638.15h-2.40M29.60 631.94h-2.40M29.60 625.73h-2.40M29.60 619.51h-2.40M29.60 613.30h-4.50M29.60 607.09h-2.40M29.60 600.87h-2.40M29.60 594.66h-2.40M29.60 588.45h-2.40M29.60 582.23h-4.50M29.60 576.02h-2.40M29.60 569.81h-2.40M29.60 563.59h-2.40M29.60 557.38h-2.40M29.60 551.17h-4.50M29.60 544.95h-2.40M29.60 538.74h-2.40" stroke="#111" stroke-width="0.9" fill="none"/>
<text x="31.75" y="723.05" font-family='"Liberation Sans", Arial, Helvetica, sans-serif' font-size="9.3" fill="#111" text-anchor="middle">0</text>
<text x="68.00" y="723.05" font-family='"Liberation Sans", Arial, Helvetica, sans-serif' font-size="9.3" fill="#111" text-anchor="middle">200</text>
<text x="104.50" y="723.05" font-family='"Liberation Sans", Arial, Helvetica, sans-serif' font-size="9.3" fill="#111" text-anchor="middle">400</text>
<text x="139.50" y="723.05" font-family='"Liberation Sans", Arial, Helvetica, sans-serif' font-size="9.3" fill="#111" text-anchor="middle">600</text>
<text x="175.75" y="723.05" font-family='"Liberation Sans", Arial, Helvetica, sans-serif' font-size="9.3" fill="#111" text-anchor="middle">800</text>
<text x="211.75" y="723.05" font-family='"Liberation Sans", Arial, Helvetica, sans-serif' font-size="9.3" fill="#111" text-anchor="middle">1000</text>
<text x="115.50" y="741.20" font-family='"Liberation Sans", Arial, Helvetica, sans-serif' font-size="10.60" font-weight="normal" text-anchor="middle" fill="#222">FL1-H</text>
<text transform="translate(12.70 557.90) rotate(-90)" font-family='"Liberation Serif", "Times New Roman", serif' font-size="14.80" font-weight="normal" text-anchor="start" fill="#222">50</text>
<text transform="translate(13.90 710.90) rotate(-90)" font-family='"Liberation Serif", "Times New Roman", serif' font-size="14.80" font-weight="normal" text-anchor="start" fill="#222">0</text>
<text transform="translate(14.00 650.50) rotate(-90)" font-family='"Liberation Sans", Arial, Helvetica, sans-serif' font-size="14.20" font-weight="normal" text-anchor="start" fill="#222">Counts</text>
<text x="73.30" y="558.70" font-family='"Liberation Sans", Arial, Helvetica, sans-serif' font-size="14.20" font-weight="bold" text-anchor="start" fill="#000">+ Mannan</text>
<text x="134.20" y="598.70" font-family='"Liberation Sans", Arial, Helvetica, sans-serif' font-size="14.40" font-weight="bold" text-anchor="start" fill="#000">– Mannan</text>
<text x="357.00" y="523.00" font-family='"Liberation Sans", Arial, Helvetica, sans-serif' font-size="18.00" font-weight="bold" text-anchor="start" fill="#000">HCV-LP Binding</text>
<path d="M336 706.0V696h1V694h1V692h1V693h1V690h1V686h1V682h1V678h1V677h1V670h1V660h1V658h1V649h1V638h1V626h1V613h1V605h1V585h1V586h1V573h1V570h1V576h1V575h1V574h1V579h1V587h1V596h1V600h1V609h1V608h1V615h1V618h1V633h1V635h1V642h1V648h1V654h1V656h1V664h1V664h1V672h1V676h1V680h1V683h1V688h1V694h1V700h1V700h1V703h1V705h1V706h1V706h1V706h1V706h1V706h1V706h1V706h1V706h1V706h1V706h1V706h1V706h1V706h1V706h1V706h1V706h1V706h1V706h1V706h1V706h1V706h1V706h1V706h1V706h1V706h1V706h1V706h1V706h1V706h1V706h1V706h1V706h1V706h1V706h1V706h1V706h1V706h1V706h1V706h1V706h1V706h1V706h1V706h1V706h1V706h1V706h1V706h1V706h1V706h1V706h1V706h1V706h1V706h1V706h1V706h1V706h1V706h1V706h1V706h1V706h1V706h1V706h1V706h1V706h1V706h1V706h1V706h1V706h1V706h1V706h1V706h1V706h1V706h1V706h1V706h1V706h1V706h1V706h1V706h1V706h1V706h1V706h1V706h1V706h1V706h1V706h1V706h1V706h1V706h1V706h1V706h1V706h1V706h1V706h1V706h1V706h1V706h1V706h1V706h1V706h1V706h1V706h1V706h1V706h1V706h1V706h1V706h1V706h1V706h1V706h1V706h1V706h1V706h1V706h1V706h1V706h1V706h1V706h1V706h1V706h1V706h1V706h1V706h1V706.0Z" fill="#c6c6c6" shape-rendering="crispEdges"/>
<path d="M336 706.0V706h1V706h1V706h1V706h1V706h1V706h1V706h1V706h1V706h1V706h1V706h1V705h1V704h1V703h1V702h1V702h1V699h1V697h1V697h1V697h1V700h1V696h1V696h1V695h1V696h1V693h1V694h1V694h1V685h1V694h1V691h1V693h1V693h1V685h1V688h1V690h1V690h1V689h1V689h1V686h1V686h1V684h1V684h1V685h1V682h1V681h1V683h1V683h1V676h1V678h1V679h1V680h1V674h1V675h1V678h1V673h1V680h1V673h1V672h1V673h1V675h1V674h1V672h1V672h1V673h1V671h1V669h1V667h1V669h1V663h1V663h1V666h1V663h1V662h1V662h1V662h1V659h1V652h1V654h1V651h1V648h1V652h1V661h1V654h1V653h1V654h1V655h1V658h1V658h1V644h1V651h1V657h1V659h1V661h1V659h1V659h1V662h1V661h1V660h1V656h1V644h1V659h1V652h1V660h1V646h1V654h1V655h1V654h1V654h1V653h1V656h1V651h1V660h1V662h1V658h1V665h1V665h1V667h1V674h1V668h1V676h1V681h1V682h1V679h1V680h1V687h1V689h1V692h1V694h1V695h1V699h1V699h1V698h1V700h1V700h1V700h1V700h1V702h1V700h1V702h1V702h1V703h1V702h1V702h1V703h1V703h1V702h1V703h1V703h1V703h1V704h1V703h1V703h1V704h1V701h1V704h1V704h1V703h1V703h1V703h1V704h1V704h1V703h1V704h1V704h1V705h1V703h1V705h1V704h1V705h1V704h1V702h1V705h1V706.0Z" fill="#555555" shape-rendering="crispEdges"/>
<path d="M335.9 705.2L336.2 705.2L337.5 706.0L338.9 705.8L340.2 705.2L341.6 705.4L343.0 706.0L344.3 706.0L345.7 705.8L347.0 705.7L348.4 703.1L349.7 703.7L351.1 702.5L352.4 703.8L353.8 698.6L355.2 698.0L356.5 698.3L357.9 701.0L359.2 699.0L360.6 696.7L361.9 699.8L363.3 695.9L364.6 698.1L366.0 696.4L367.4 694.4L368.7 693.1L370.1 692.4L371.4 694.5L372.8 695.5L374.1 693.8L375.5 697.3L376.8 696.0L378.2 682.4L379.6 690.9L380.9 689.4L382.3 695.8L383.6 688.7L385.0 683.6L386.3 678.1L387.7 684.9L389.0 687.7L390.4 682.7L391.8 687.5L393.1 684.2L394.5 681.9L395.8 685.9L397.2 685.3L398.5 677.4L399.9 692.6L401.2 685.0L402.6 681.6L404.0 684.7L405.3 666.7L406.7 667.5L408.0 672.2L409.4 669.3L410.7 682.7L412.1 677.9L413.4 667.7L414.8 674.1L416.2 658.5L417.5 652.0L418.9 671.7L420.2 653.5L421.6 654.3L422.9 661.4L424.3 655.2L425.6 657.8L427.0 645.4L428.3 654.9L429.7 651.6L431.1 647.8L432.4 649.4L433.8 657.8L435.1 653.4L436.5 657.8L437.8 662.0L439.2 666.8L440.5 661.7L441.9 660.4L443.3 657.9L444.6 659.5L446.0 658.7L447.3 665.7L448.7 648.0L450.0 651.0L451.4 645.5L452.7 658.6L454.1 642.8L455.5 671.5L456.8 659.7L458.2 672.5L459.5 669.0L460.9 675.3L462.2 665.9L463.6 674.3L464.9 667.3L466.3 689.1L467.7 678.3L469.0 683.3L470.4 686.7L471.7 687.7L473.1 691.9L474.4 693.3L475.8 693.0L477.1 695.8L478.5 694.1L479.9 695.9L481.2 698.3L482.6 698.7L483.9 699.8L485.3 702.1L486.6 702.9L488.0 697.0L489.3 695.6L490.7 699.2L492.1 701.2L493.4 696.0L494.8 702.1L496.1 696.4L497.5 698.9L498.8 698.8L500.2 698.6L501.5 697.4L502.9 705.2L504.3 699.1L505.6 702.0L507.0 699.3L508.3 689.1L508.8 685.2" fill="none" stroke="#000" stroke-width="1.00" stroke-linejoin="miter" stroke-miterlimit="2"/>
<path d="M333.00 706.15H513.50" stroke="#111" stroke-width="1.7" fill="none"/>
<rect x="333.50" y="533.50" width="179.50" height="172.50" fill="none" stroke="#111" stroke-width="1.15"/>
<path d="M333.50 706.00v5.30M340.52 706.00v3.20M347.54 706.00v3.20M354.56 706.00v3.20M361.57 706.00v3.20M368.59 706.00v5.30M375.61 706.00v3.20M382.63 706.00v3.20M389.65 706.00v3.20M396.67 706.00v3.20M403.69 706.00v5.30M410.70 706.00v3.20M417.72 706.00v3.20M424.74 706.00v3.20M431.76 706.00v3.20M438.78 706.00v5.30M445.80 706.00v3.20M452.82 706.00v3.20M459.83 706.00v3.20M466.85 706.00v3.20M473.87 706.00v5.30M480.89 706.00v3.20M487.91 706.00v3.20M494.93 706.00v3.20M501.95 706.00v3.20M508.96 706.00v5.30M333.50 706.00h-4.50M333.50 700.25h-2.40M333.50 694.50h-2.40M333.50 688.75h-2.40M333.50 683.00h-2.40M333.50 677.25h-4.50M333.50 671.50h-2.40M333.50 665.75h-2.40M333.50 660.00h-2.40M333.50 654.25h-2.40M333.50 648.50h-4.50M333.50 642.75h-2.40M333.50 637.00h-2.40M333.50 631.25h-2.40M333.50 625.50h-2.40M333.50 619.75h-4.50M333.50 614.00h-2.40M333.50 608.25h-2.40M333.50 602.50h-2.40M333.50 596.75h-2.40M333.50 591.00h-4.50M333.50 585.25h-2.40M333.50 579.50h-2.40M333.50 573.75h-2.40M333.50 568.00h-2.40M333.50 562.25h-4.50M333.50 556.50h-2.40M333.50 550.75h-2.40M333.50 545.00h-2.40M333.50 539.25h-2.40M333.50 533.50h-4.50" stroke="#111" stroke-width="0.9" fill="none"/>
<text x="335.50" y="723.55" font-family='"Liberation Sans", Arial, Helvetica, sans-serif' font-size="9.3" fill="#111" text-anchor="middle">0</text>
<text x="370.75" y="723.55" font-family='"Liberation Sans", Arial, Helvetica, sans-serif' font-size="9.3" fill="#111" text-anchor="middle">200</text>
<text x="405.50" y="723.55" font-family='"Liberation Sans", Arial, Helvetica, sans-serif' font-size="9.3" fill="#111" text-anchor="middle">400</text>
<text x="439.00" y="723.55" font-family='"Liberation Sans", Arial, Helvetica, sans-serif' font-size="9.3" fill="#111" text-anchor="middle">600</text>
<text x="473.75" y="723.55" font-family='"Liberation Sans", Arial, Helvetica, sans-serif' font-size="9.3" fill="#111" text-anchor="middle">800</text>
<text x="507.50" y="723.55" font-family='"Liberation Sans", Arial, Helvetica, sans-serif' font-size="9.3" fill="#111" text-anchor="middle">1000</text>
<text x="417.80" y="741.20" font-family='"Liberation Sans", Arial, Helvetica, sans-serif' font-size="10.60" font-weight="normal" text-anchor="middle" fill="#222">FL2-H</text>
<text transform="translate(317.90 539.40) rotate(-90)" font-family='"Liberation Serif", "Times New Roman", serif' font-size="14.80" font-weight="normal" text-anchor="start" fill="#222">60</text>
<text transform="translate(317.90 710.70) rotate(-90)" font-family='"Liberation Serif", "Times New Roman", serif' font-size="14.80" font-weight="normal" text-anchor="start" fill="#222">0</text>
<text transform="translate(317.00 649.50) rotate(-90)" font-family='"Liberation Sans", Arial, Helvetica, sans-serif' font-size="14.20" font-weight="normal" text-anchor="start" fill="#222">Counts</text>
<text x="347.20" y="554.50" font-family='"Liberation Sans", Arial, Helvetica, sans-serif' font-size="14.00" font-weight="bold" text-anchor="start" fill="#000">NC</text>
<text x="374.70" y="603.70" font-family='"Liberation Sans", Arial, Helvetica, sans-serif' font-size="12.50" font-weight="bold" text-anchor="start" fill="#4a4a4a">+ Mannan</text>
<text x="447.80" y="603.70" font-family='"Liberation Sans", Arial, Helvetica, sans-serif' font-size="12.60" font-weight="bold" text-anchor="start" fill="#000">– Mannan</text>
<path d="M404.5 610.5V625.5H429.5V632" fill="none" stroke="#505050" stroke-width="1.4"/>
<path d="M423.7 631H435.5L429.6 641.2Z" fill="#505050"/>
<path d="M475.5 610.5V625.5H450.7V632" fill="none" stroke="#000" stroke-width="1.4"/>
<path d="M445 631H456.6L450.8 641.2Z" fill="#000"/>
<rect x="80.20" y="830.92" width="23.60" height="169.58" fill="#000"/>
<rect x="137.50" y="994.06" width="23.60" height="6.44" fill="#000"/>
<path d="M149.30 994.06V993.04M146.70 993.04H151.90" stroke="#000" stroke-width="1.3" fill="none"/>
<rect x="195.00" y="851.61" width="23.60" height="148.89" fill="#000"/>
<path d="M206.80 851.61V848.55M204.20 848.55H209.40" stroke="#000" stroke-width="1.3" fill="none"/>
<rect x="251.20" y="833.29" width="23.60" height="167.21" fill="#000"/>
<path d="M263.00 833.29V831.76M260.40 831.76H265.60" stroke="#000" stroke-width="1.3" fill="none"/>
<rect x="308.20" y="833.29" width="23.60" height="167.21" fill="#000"/>
<path d="M320.00 833.29V825.49M317.40 825.49H322.60" stroke="#000" stroke-width="1.3" fill="none"/>
<rect x="365.20" y="828.88" width="23.60" height="171.62" fill="#000"/>
<path d="M377.00 828.88V823.79M374.40 823.79H379.60" stroke="#000" stroke-width="1.3" fill="none"/>
<rect x="422.20" y="830.92" width="23.60" height="169.58" fill="#000"/>
<path d="M434.00 830.92V825.49M431.40 825.49H436.60" stroke="#000" stroke-width="1.3" fill="none"/>
<rect x="479.20" y="837.36" width="23.60" height="163.14" fill="#000"/>
<path d="M491.00 837.36V831.93M488.40 831.93H493.60" stroke="#000" stroke-width="1.3" fill="none"/>
<path d="M64.50 830.92H520" stroke="#000" stroke-width="1.3" stroke-dasharray="4 2.4" fill="none"/>
<path d="M64.50 796.30V1000.50H520" stroke="#000" stroke-width="1.5" fill="none"/>
<path d="M64.50 1000.50h-5.8M64.50 966.58h-5.8M64.50 932.67h-5.8M64.50 898.75h-5.8M64.50 864.83h-5.8M64.50 830.92h-5.8M64.50 797.00h-5.8M64.50 1000.50v4.8M121.40 1000.50v4.8M178.30 1000.50v4.8M235.20 1000.50v4.8M292.10 1000.50v4.8M349.00 1000.50v4.8M405.90 1000.50v4.8M462.80 1000.50v4.8M519.70 1000.50v4.8" stroke="#000" stroke-width="1.5" fill="none"/>
<text x="54.30" y="1005.50" font-family='"Liberation Sans", Arial, Helvetica, sans-serif' font-size="15.60" font-weight="bold" text-anchor="end" fill="#000">0</text>
<text x="54.30" y="971.58" font-family='"Liberation Sans", Arial, Helvetica, sans-serif' font-size="15.60" font-weight="bold" text-anchor="end" fill="#000">20</text>
<text x="54.30" y="937.67" font-family='"Liberation Sans", Arial, Helvetica, sans-serif' font-size="15.60" font-weight="bold" text-anchor="end" fill="#000">40</text>
<text x="54.30" y="903.75" font-family='"Liberation Sans", Arial, Helvetica, sans-serif' font-size="15.60" font-weight="bold" text-anchor="end" fill="#000">60</text>
<text x="54.30" y="869.83" font-family='"Liberation Sans", Arial, Helvetica, sans-serif' font-size="15.60" font-weight="bold" text-anchor="end" fill="#000">80</text>
<text x="54.30" y="835.92" font-family='"Liberation Sans", Arial, Helvetica, sans-serif' font-size="15.60" font-weight="bold" text-anchor="end" fill="#000">100</text>
<text x="54.30" y="802.00" font-family='"Liberation Sans", Arial, Helvetica, sans-serif' font-size="15.60" font-weight="bold" text-anchor="end" fill="#000">120</text>
<text transform="translate(17.30 970.50) rotate(-90)" font-family='"Liberation Sans", Arial, Helvetica, sans-serif' font-size="17.10" font-weight="bold" text-anchor="start" fill="#000">% HCV-LP binding</text>
<text transform="translate(83.00 1121.60) rotate(-90)" font-family='"Liberation Sans", Arial, Helvetica, sans-serif' font-size="16.00" font-weight="bold" text-anchor="start" fill="#000">DCs +</text>
<text transform="translate(102.00 1121.60) rotate(-90)" font-family='"Liberation Sans", Arial, Helvetica, sans-serif' font-size="16.00" font-weight="bold" text-anchor="start" fill="#000">PBS</text>
<text transform="translate(139.30 1121.60) rotate(-90)" font-family='"Liberation Sans", Arial, Helvetica, sans-serif' font-size="16.00" font-weight="bold" text-anchor="start" fill="#000">DCs +</text>
<text transform="translate(158.00 1121.60) rotate(-90)" font-family='"Liberation Sans", Arial, Helvetica, sans-serif' font-size="16.00" font-weight="bold" text-anchor="start" fill="#000">Trypsin</text>
<text transform="translate(204.30 1121.60) rotate(-90)" font-family='"Liberation Sans", Arial, Helvetica, sans-serif' font-size="16.00" font-weight="bold" text-anchor="start" fill="#000">DCs +</text>
<text transform="translate(224.50 1121.60) rotate(-90)" font-family='"Liberation Sans", Arial, Helvetica, sans-serif' font-size="16.00" font-weight="bold" text-anchor="start" fill="#000">Mannan</text>
<text transform="translate(259.30 1121.60) rotate(-90)" font-family='"Liberation Sans", Arial, Helvetica, sans-serif' font-size="16.00" font-weight="bold" text-anchor="start" fill="#000">DCs +</text>
<text transform="translate(278.00 1121.60) rotate(-90)" font-family='"Liberation Sans", Arial, Helvetica, sans-serif' font-size="16.00" font-weight="bold" text-anchor="start" fill="#000">Control IgG</text>
<text transform="translate(304.30 1121.60) rotate(-90)" font-family='"Liberation Sans", Arial, Helvetica, sans-serif' font-size="16.00" font-weight="bold" text-anchor="start" fill="#000">DCs +</text>
<text transform="translate(324.30 1121.60) rotate(-90)" font-family='"Liberation Sans", Arial, Helvetica, sans-serif' font-size="16.00" font-weight="bold" text-anchor="start" fill="#000">anti-DC-SIGN/</text>
<text transform="translate(342.50 1121.60) rotate(-90)" font-family='"Liberation Sans", Arial, Helvetica, sans-serif' font-size="16.00" font-weight="bold" text-anchor="start" fill="#000">-L-SIGN</text>
<text transform="translate(365.00 1121.60) rotate(-90)" font-family='"Liberation Sans", Arial, Helvetica, sans-serif' font-size="16.00" font-weight="bold" text-anchor="start" fill="#000">DCs +</text>
<text transform="translate(385.00 1121.60) rotate(-90)" font-family='"Liberation Sans", Arial, Helvetica, sans-serif' font-size="16.00" font-weight="bold" text-anchor="start" fill="#000">anti-DC-SIGN</text>
<text transform="translate(403.30 1121.60) rotate(-90)" font-family='"Liberation Sans", Arial, Helvetica, sans-serif' font-size="16.00" font-weight="bold" text-anchor="start" fill="#000">(AZN-D1)</text>
<text transform="translate(430.50 1121.60) rotate(-90)" font-family='"Liberation Sans", Arial, Helvetica, sans-serif' font-size="16.00" font-weight="bold" text-anchor="start" fill="#000">DCs +</text>
<text transform="translate(453.00 1121.60) rotate(-90)" font-family='"Liberation Sans", Arial, Helvetica, sans-serif' font-size="16.00" font-weight="bold" text-anchor="start" fill="#000">anti-DEC-205</text>
<text transform="translate(486.30 1121.60) rotate(-90)" font-family='"Liberation Sans", Arial, Helvetica, sans-serif' font-size="16.00" font-weight="bold" text-anchor="start" fill="#000">DCs +</text>
<text transform="translate(505.50 1121.60) rotate(-90)" font-family='"Liberation Sans", Arial, Helvetica, sans-serif' font-size="16.00" font-weight="bold" text-anchor="start" fill="#000">anti-Langerin</text>
</svg>
</body></html>
